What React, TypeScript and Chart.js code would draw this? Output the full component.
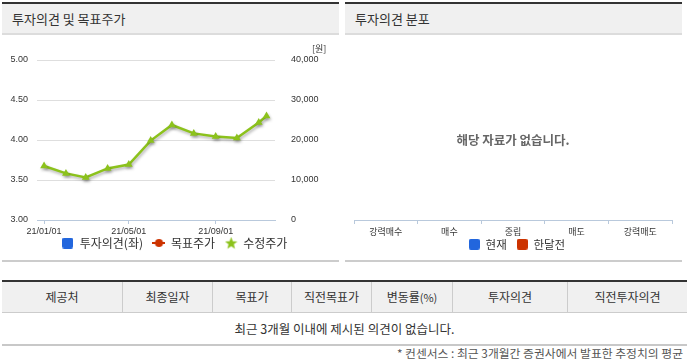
import React, { useEffect, useRef } from 'react';
import { Chart, registerables } from 'chart.js';

Chart.register(...registerables);

const FONT_KR = '"Noto Sans CJK KR", "Noto Sans", sans-serif';
const FONT_NUM = '"Liberation Sans", Arial, sans-serif';

const BLUE = '#2266dd';
const RED = '#cc3300';
const GREEN = '#8cc21c';
const AXIS = '#b9c9dc';

// ---------------- data ----------------
const priceDates = [
  '2021-01-01', '2021-02-01', '2021-03-01', '2021-04-01', '2021-05-01', '2021-06-01',
  '2021-07-01', '2021-08-01', '2021-09-01', '2021-10-01', '2021-11-01', '2021-11-12',
];
const adjustedPrice = [13500, 11650, 10650, 12900, 13850, 19850, 23750, 21650, 20850, 20500, 24400, 26000];
const targetDates: string[] = [];
const targetPrice: number[] = [];
const opinionDates: string[] = [];
const opinionScore: number[] = [];

const xRange = ['2020-12-22', '2021-11-24'];
const xTickDates = ['2021-01-01', '2021-05-01', '2021-09-01'];
const xTickLabels = ['21/01/01', '21/05/01', '21/09/01'];
const leftTicks = [3, 3.5, 4, 4.5, 5];
const rightTicks = [0, 10000, 20000, 30000, 40000];
const priceLegend = ['투자의견(좌)', '목표주가', '수정주가'];

const opinionCategories = ['강력매수', '매수', '중립', '매도', '강력매도'];
const currentCounts: number[] = [];
const monthAgoCounts: number[] = [];
const distLegend = ['현재', '한달전'];

const tableHeaders = ['제공처', '최종일자', '목표가', '직전목표가', '변동률(%)', '투자의견', '직전투자의견'];
const columnWidths = [120, 90, 79, 80, 81, 115, 120];
const emptyMessage = '최근 3개월 이내에 제시된 의견이 없습니다.';
const footNote = '* 컨센서스 : 최근 3개월간 증권사에서 발표한 추정치의 평균';
const noDataText = '해당 자료가 없습니다.';

// ---------------- helpers ----------------
const BASE = Date.UTC(2021, 0, 1);
const toDay = (s: string) => (Date.parse(s + 'T00:00:00Z') - BASE) / 86400000;

function makeIcon(kind: string, color: string): HTMLCanvasElement {
  const c = document.createElement('canvas');
  const ctx = c.getContext('2d')!;
  if (kind === 'square') {
    c.width = 11; c.height = 11;
    ctx.fillStyle = color;
    ctx.beginPath();
    (ctx as any).roundRect(0, 0, 11, 11, 2);
    ctx.fill();
  } else if (kind === 'dotline') {
    c.width = 13; c.height = 10;
    ctx.strokeStyle = color; ctx.lineWidth = 2;
    ctx.beginPath(); ctx.moveTo(0, 5); ctx.lineTo(13, 5); ctx.stroke();
    ctx.fillStyle = color;
    ctx.beginPath(); ctx.arc(6.5, 5, 4, 0, Math.PI * 2); ctx.fill();
  } else {
    c.width = 13; c.height = 13;
    ctx.fillStyle = color;
    ctx.beginPath();
    for (let i = 0; i < 10; i++) {
      const r = i % 2 === 0 ? 6.5 : 2.8;
      const a = -Math.PI / 2 + (i * Math.PI) / 5;
      const px = 6.5 + r * Math.cos(a);
      const py = 7 + r * Math.sin(a);
      if (i === 0) ctx.moveTo(px, py); else ctx.lineTo(px, py);
    }
    ctx.closePath();
    ctx.fill();
  }
  return c;
}

const shadowPlugin = {
  id: 'lineShadow',
  beforeDatasetDraw(chart: any, args: any) {
    if (args.meta.type === 'line') {
      const ctx = chart.ctx;
      ctx.save();
      ctx.shadowColor = 'rgba(0,0,0,0.3)';
      ctx.shadowBlur = 3;
      ctx.shadowOffsetX = 1;
      ctx.shadowOffsetY = 2;
    }
  },
  afterDatasetDraw(chart: any, args: any) {
    if (args.meta.type === 'line') chart.ctx.restore();
  },
};

// let the bottom axis labels extend below the (narrow) axis box
const labelRoomPlugin = {
  id: 'labelRoom',
  afterLayout(chart: any) {
    const x = chart.scales.x;
    if (x) x.bottom = x.top + 20;
  },
};

const unitPlugin = {
  id: 'unitLabel',
  afterDraw(chart: any) {
    const { ctx, chartArea } = chart;
    ctx.save();
    ctx.font = `9px ${FONT_KR}`;
    ctx.fillStyle = '#333';
    ctx.textAlign = 'left';
    ctx.textBaseline = 'middle';
    ctx.fillText('[원]', chartArea.right + 37, chartArea.top - 11);
    ctx.restore();
  },
};

const noDataPlugin = {
  id: 'noData',
  afterDraw(chart: any) {
    const { ctx, chartArea } = chart;
    ctx.save();
    ctx.font = `bold 12.5px ${FONT_KR}`;
    ctx.fillStyle = '#666';
    ctx.textAlign = 'center';
    ctx.textBaseline = 'middle';
    ctx.fillText(noDataText, (chartArea.left + chartArea.right) / 2, (chartArea.top + chartArea.bottom) / 2);
    ctx.restore();
  },
};

function PriceChart() {
  const ref = useRef<HTMLCanvasElement>(null);
  useEffect(() => {
    const icons = [makeIcon('square', BLUE), makeIcon('dotline', RED), makeIcon('star', GREEN)];
    const chart = new Chart(ref.current!, {
      type: 'line',
      data: {
        datasets: [
          {
            type: 'bar',
            label: priceLegend[0],
            data: opinionDates.map((d, i) => ({ x: toDay(d), y: opinionScore[i] })),
            yAxisID: 'y',
            backgroundColor: BLUE,
          } as any,
          {
            type: 'line',
            label: priceLegend[1],
            data: targetDates.map((d, i) => ({ x: toDay(d), y: targetPrice[i] })),
            yAxisID: 'y1',
            borderColor: RED,
            backgroundColor: RED,
            pointStyle: 'circle',
          },
          {
            type: 'line',
            label: priceLegend[2],
            data: priceDates.map((d, i) => ({ x: toDay(d), y: adjustedPrice[i] })),
            yAxisID: 'y1',
            borderColor: GREEN,
            backgroundColor: GREEN,
            borderWidth: 2.5,
            pointStyle: 'triangle',
            pointRadius: 4.5,
            pointBorderWidth: 0,
            pointBackgroundColor: GREEN,
            tension: 0,
          },
        ],
      },
      options: {
        animation: false,
        responsive: false,
        events: [],
        layout: { padding: { left: 8, right: 0, top: 25, bottom: 1 } },
        plugins: {
          tooltip: { enabled: false },
          legend: {
            position: 'bottom',
            onClick: () => {},
            labels: {
              usePointStyle: true,
              pointStyleWidth: 12,
              padding: 10,
              color: '#333',
              font: { family: FONT_KR, size: 12 },
              generateLabels: () =>
                priceLegend.map((t, i) => ({
                  text: t,
                  pointStyle: icons[i],
                  fillStyle: 'rgba(0,0,0,0)',
                  strokeStyle: 'rgba(0,0,0,0)',
                  lineWidth: 0,
                  hidden: false,
                  datasetIndex: i,
                  fontColor: '#333',
                })) as any,
            },
          },
        },
        scales: {
          x: {
            type: 'linear',
            min: toDay(xRange[0]),
            max: toDay(xRange[1]),
            offset: false,
            afterBuildTicks: (s: any) => {
              s.ticks = xTickDates.map((d) => ({ value: toDay(d) }));
            },
            afterFit: (s: any) => {
              s.height = 7;
            },
            ticks: {
              autoSkip: false,
              maxRotation: 0,
              padding: 2,
              color: '#333',
              font: { family: FONT_NUM, size: 9 },
              callback: (_v: any, i: number) => xTickLabels[i],
            },
            grid: { drawOnChartArea: false, drawTicks: true, tickLength: 4, color: AXIS, offset: false },
            border: { color: AXIS, width: 1 },
          },
          y: {
            position: 'left',
            min: leftTicks[0],
            max: leftTicks[leftTicks.length - 1],
            afterBuildTicks: (s: any) => {
              s.ticks = leftTicks.map((v) => ({ value: v }));
            },
            afterFit: (s: any) => {
              s.width = 27;
            },
            ticks: {
              padding: 9,
              color: '#333',
              font: { family: FONT_NUM, size: 9 },
              callback: (v: any) => Number(v).toFixed(2),
            },
            grid: {
              drawTicks: false,
              color: (c: any) => (c.tick && c.tick.value === leftTicks[0] ? 'rgba(0,0,0,0)' : '#dedede'),
            },
            border: { display: false },
          },
          y1: {
            position: 'right',
            min: rightTicks[0],
            max: rightTicks[rightTicks.length - 1],
            afterBuildTicks: (s: any) => {
              s.ticks = rightTicks.map((v) => ({ value: v }));
            },
            afterFit: (s: any) => {
              s.width = 64;
            },
            ticks: {
              padding: 8,
              color: '#333',
              font: { family: FONT_NUM, size: 9 },
              callback: (v: any) => Number(v).toLocaleString('en-US'),
            },
            grid: { display: false },
            border: { display: false },
          },
        },
      },
      plugins: [shadowPlugin, unitPlugin, labelRoomPlugin],
    } as any);
    return () => chart.destroy();
  }, []);
  return <canvas ref={ref} width={337} height={225} style={{ display: 'block', width: 337, height: 225 }} />;
}

function DistChart() {
  const ref = useRef<HTMLCanvasElement>(null);
  useEffect(() => {
    const icons = [makeIcon('square', BLUE), makeIcon('square', RED)];
    const chart = new Chart(ref.current!, {
      type: 'bar',
      data: {
        labels: opinionCategories,
        datasets: [
          { label: distLegend[0], data: currentCounts, backgroundColor: BLUE },
          { label: distLegend[1], data: monthAgoCounts, backgroundColor: RED },
        ],
      },
      options: {
        animation: false,
        responsive: false,
        events: [],
        layout: { padding: { left: 8, right: 1, top: 25, bottom: 0 } },
        plugins: {
          tooltip: { enabled: false },
          legend: {
            position: 'bottom',
            onClick: () => {},
            labels: {
              usePointStyle: true,
              pointStyleWidth: 11,
              padding: 10,
              color: '#333',
              font: { family: FONT_KR, size: 11.5 },
              generateLabels: () =>
                distLegend.map((t, i) => ({
                  text: t,
                  pointStyle: icons[i],
                  fillStyle: 'rgba(0,0,0,0)',
                  strokeStyle: 'rgba(0,0,0,0)',
                  lineWidth: 0,
                  hidden: false,
                  datasetIndex: i,
                  fontColor: '#333',
                })) as any,
            },
          },
        },
        scales: {
          x: {
            afterFit: (s: any) => {
              s.height = 8.5;
            },
            ticks: { padding: 2, color: '#333', font: { family: FONT_KR, size: 9 }, maxRotation: 0, autoSkip: false },
            grid: { offset: true, drawOnChartArea: false, drawTicks: true, tickLength: 4, color: AXIS },
            border: { color: AXIS, width: 1 },
          },
          y: {
            position: 'left',
            min: 0,
            max: 1,
            afterFit: (s: any) => {
              s.width = 1;
            },
            ticks: { display: false },
            grid: { display: false },
            border: { display: false },
          },
          y2: {
            position: 'right',
            min: 0,
            max: 1,
            afterFit: (s: any) => {
              s.width = 9;
            },
            ticks: { display: false },
            grid: { display: false },
            border: { display: false },
          },
        },
      },
      plugins: [noDataPlugin, labelRoomPlugin],
    } as any);
    return () => chart.destroy();
  }, []);
  return <canvas ref={ref} width={337} height={225} style={{ display: 'block', width: 337, height: 225 }} />;
}

function Panel({ left, title, children }: { left: number; title: string; children: React.ReactNode }) {
  return (
    <div style={{ position: 'absolute', left, top: 2, width: 337 }}>
      <div
        style={{
          height: 29,
          lineHeight: '29px',
          background: '#f0f0f0',
          borderTop: '2px solid #333',
          borderBottom: '2px solid #dcdcdc',
          paddingLeft: 10,
          fontSize: 13,
          color: '#333',
          whiteSpace: 'nowrap',
        }}
      >
        {title}
      </div>
      <div style={{ height: 225, borderBottom: '2px solid #cccccc' }}>{children}</div>
    </div>
  );
}

function HeaderText({ text }: { text: string }) {
  const idx = text.indexOf('(');
  if (idx < 0) return <>{text}</>;
  return (
    <>
      {text.slice(0, idx)}
      <span style={{ fontSize: 11 }}>{text.slice(idx)}</span>
    </>
  );
}

export default function App() {
  return (
    <div
      style={{
        position: 'absolute',
        left: 0,
        top: 0,
        width: 687,
        height: 362,
        overflow: 'hidden',
        background: '#fff',
        fontFamily: FONT_KR,
      }}
    >
      <Panel left={2} title="투자의견 및 목표주가">
        <PriceChart />
      </Panel>
      <Panel left={345} title="투자의견 분포">
        <DistChart />
      </Panel>

      <div style={{ position: 'absolute', left: 2, top: 280, width: 685 }}>
        <div
          style={{
            display: 'flex',
            height: 30,
            background: '#f0f0f0',
            borderTop: '2px solid #333',
            borderBottom: '1px solid #cccccc',
          }}
        >
          {tableHeaders.map((h, i) => (
            <div
              key={h}
              style={{
                width: columnWidths[i],
                boxSizing: 'border-box',
                borderLeft: i === 0 ? 'none' : '1px solid #cccccc',
                textAlign: 'center',
                lineHeight: '30px',
                fontSize: 12,
                color: '#333',
                whiteSpace: 'nowrap',
              }}
            >
              <HeaderText text={h} />
            </div>
          ))}
        </div>
        <div
          style={{
            height: 31,
            lineHeight: '31px',
            textAlign: 'center',
            fontSize: 12.5,
            color: '#333',
            borderBottom: '2px solid #c8c8c8',
          }}
        >
          {emptyMessage}
        </div>
      </div>
      <div
        style={{
          position: 'absolute',
          top: 346,
          right: 4,
          height: 14,
          lineHeight: '14px',
          fontSize: 11.8,
          color: '#555',
          whiteSpace: 'nowrap',
        }}
      >
        {footNote}
      </div>
    </div>
  );
}
